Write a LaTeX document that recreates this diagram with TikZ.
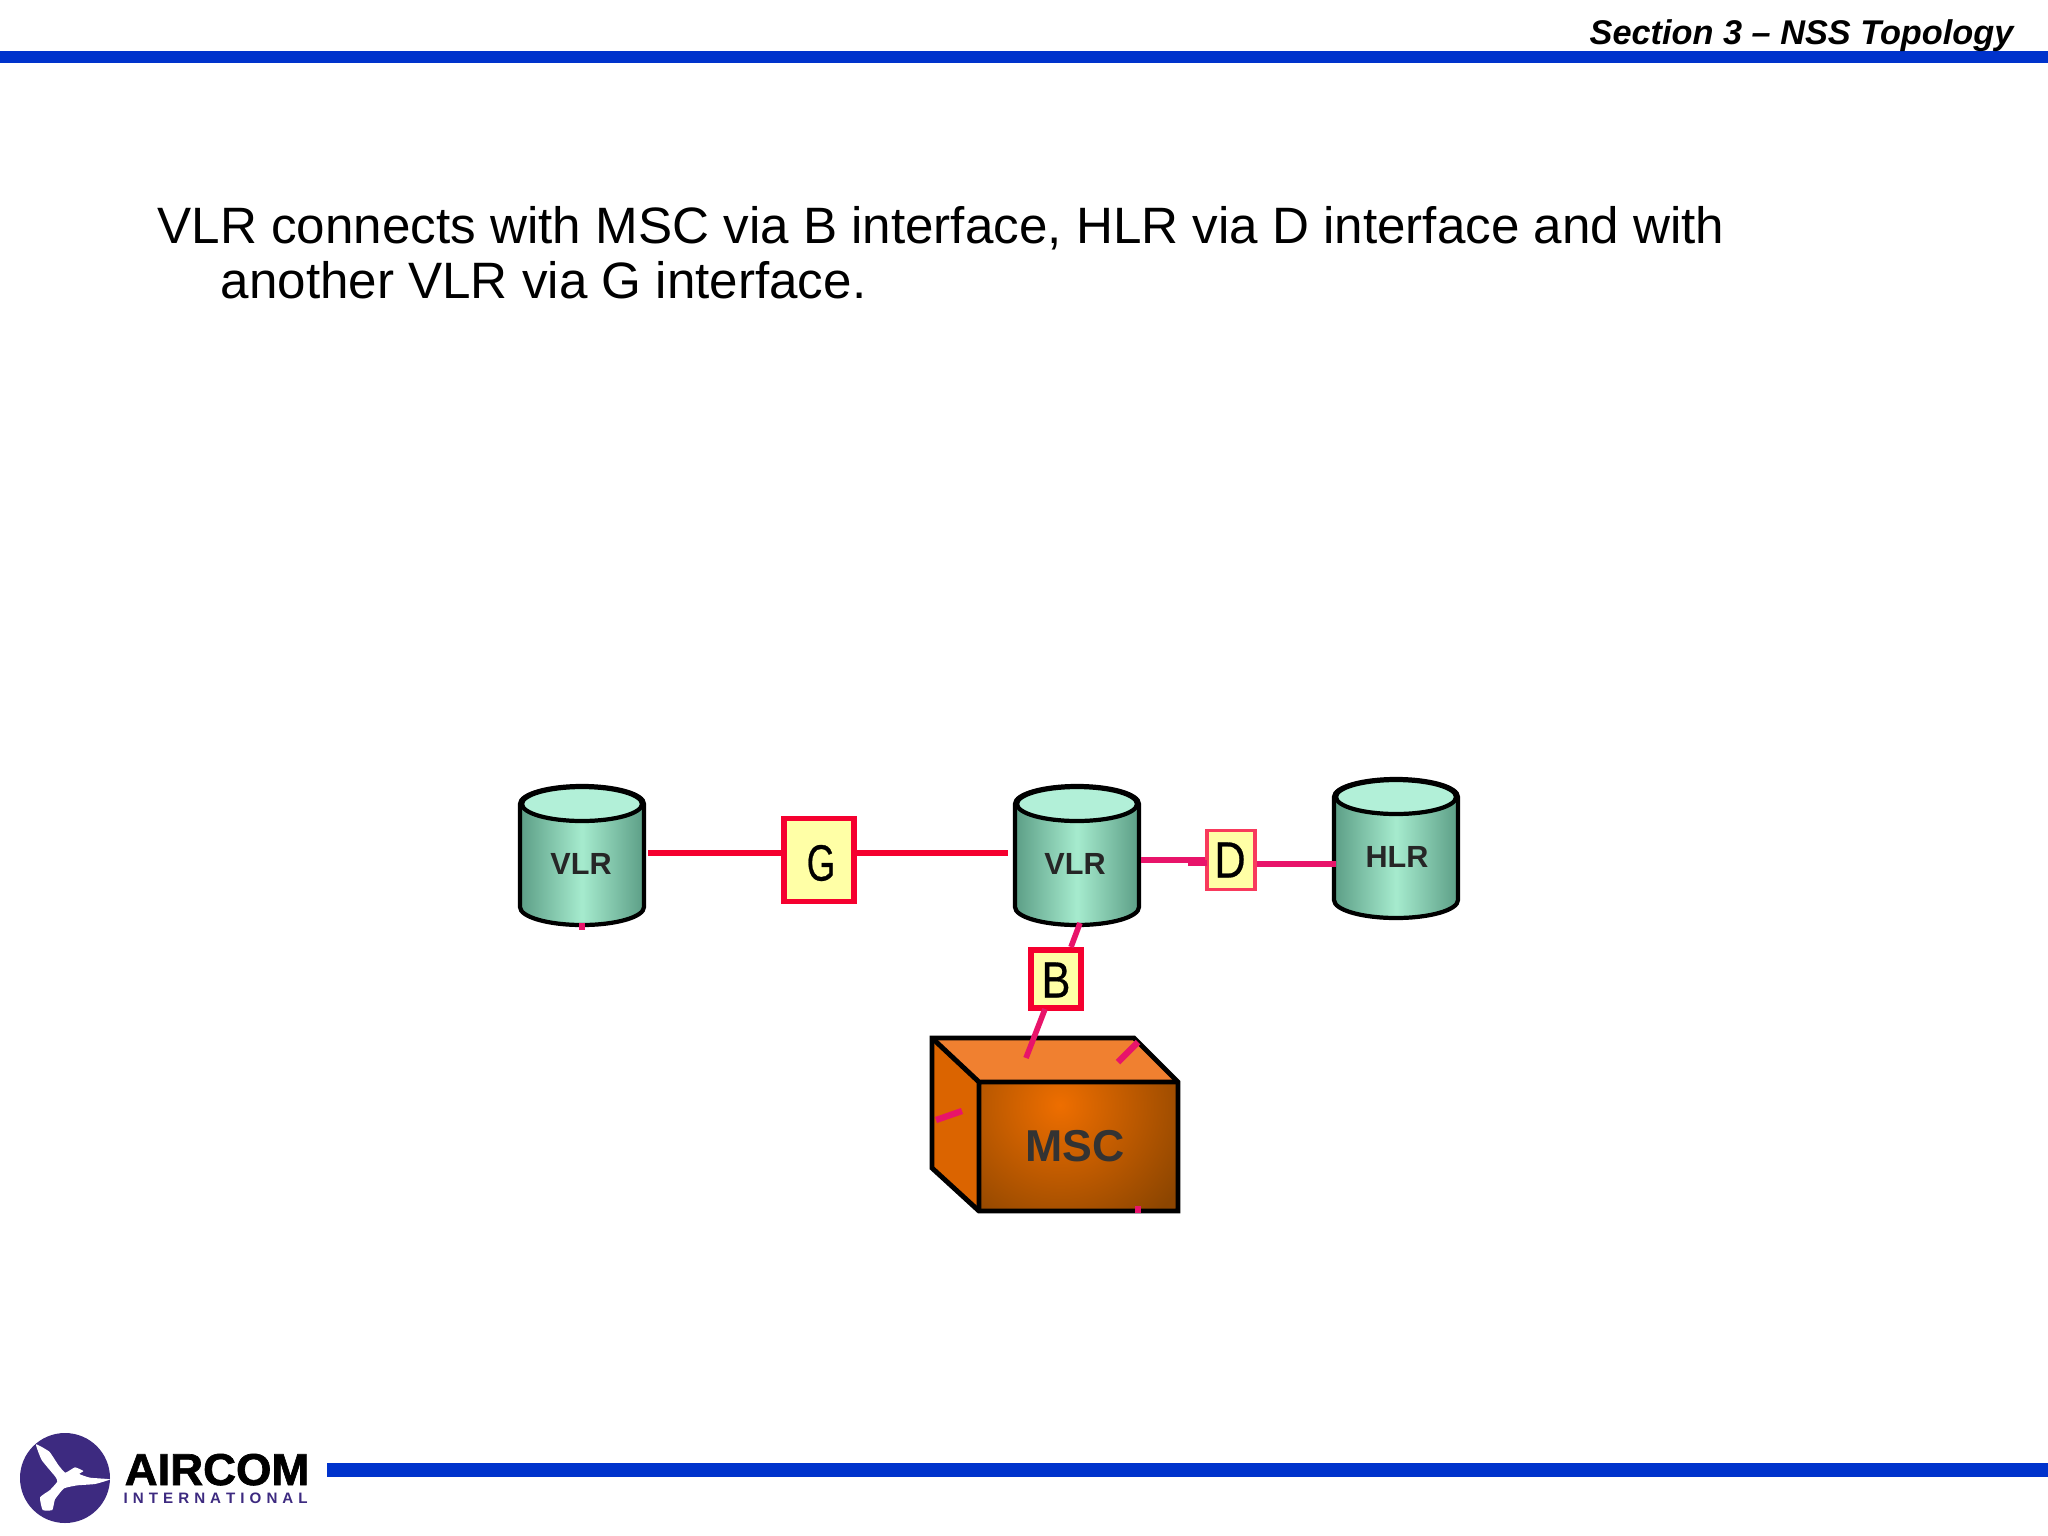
\documentclass[tikz,border=0pt]{standalone}
\usepackage{fontspec}
\usepackage{graphicx}
\setmainfont{Liberation Sans}
\newfontfamily\heavyfont[BoldFeatures={FakeBold=1.5}]{Liberation Sans}
\newfontfamily\midfont[FakeBold=0.6]{Liberation Sans}
\usetikzlibrary{calc}
\definecolor{barblue}{HTML}{0033CC}
\definecolor{logopurple}{HTML}{3D2A80}
\definecolor{boxred}{HTML}{F5002F}
\definecolor{softred}{HTML}{F83A5C}
\definecolor{linkpink}{HTML}{E8146A}
\definecolor{boxyellow}{HTML}{FFFFA6}
\definecolor{cyltop}{HTML}{B2F0D8}
\definecolor{cyldark}{HTML}{5C9E86}
\definecolor{cyllight}{HTML}{A6EBCE}
\definecolor{msctop}{HTML}{F08030}
\definecolor{mscside}{HTML}{DB6400}
\definecolor{mscc}{HTML}{EE6E00}
\definecolor{msce}{HTML}{8C4500}
\newcommand{\fs}[1]{\fontsize{#1}{#1}\selectfont}
\newcommand{\cylshape}[3]{% centre x, top-ellipse y, bottom y
  \path[draw=black,line width=1.2pt,left color=cyldark,right color=cyldark,middle color=cyllight]
    (#1-62,#2) -- (#1-62,#3-18) arc[start angle=180,end angle=0,x radius=62,y radius=18]
    -- (#1+62,#2) arc[start angle=0,end angle=-180,x radius=62,y radius=18] -- cycle;
  \path[draw=black,line width=1.2pt,fill=cyltop] (#1,#2) ellipse[x radius=60,y radius=17];
}
\tikzset{
  bar/.style={fill=barblue,draw=none},
  stronglink/.style={draw=boxred,line width=1.45pt},
  softlink/.style={draw=linkpink,line width=1.6pt},
  tick/.style={draw=linkpink,line width=1.8pt},
  iface/.style={fill=boxyellow,draw=boxred,line width=1.6pt,inner sep=0pt},
  softiface/.style={fill=boxyellow,draw=softred,line width=1.1pt,inner sep=0pt},
  dblabel/.style={inner sep=0pt,font=\bfseries\fs{8.7},text=black!85},
  body/.style={inner sep=0pt,anchor=base west,font=\fs{14.55}},
  ifacelabel/.style={inner sep=0pt,font=\midfont\fs{14.5}},
}
\begin{document}
\begin{tikzpicture}[x=0.01cm,y=-0.01cm]
\useasboundingbox (0,0) rectangle (2048,1536);
\fill[white] (0,0) rectangle (2048,1536);
% bars
\path[bar] (0,51) rectangle (2048,63);
\path[bar] (327,1463) rectangle (2048,1477);
\node[inner sep=0pt,anchor=base east,font=\bfseries\itshape\fs{9.75}] (hdr) at (2014,44) {Section 3 – NSS Topology};
% body text
\node[body] (line1) at (157,243) {VLR connects with MSC via B interface, HLR via D interface and with};
\node[body] (line2) at (220,298) {another VLR via G interface.};
% cylinders
\cylshape{582}{804}{925}
\cylshape{1077}{804}{925}
\cylshape{1396}{797}{918}
\node[dblabel] (vlrA) at (581,864) {VLR};
\node[dblabel] (vlrB) at (1075,864) {VLR};
\node[dblabel] (hlr) at (1397,857) {HLR};
\coordinate (vlrAe) at (648,853);
\coordinate (vlrBw) at (1008,853);
\coordinate (vlrBe) at (1141,860);
\coordinate (hlrW) at (1336,864);
\coordinate (vlrBs) at (1080,923);
% MSC box
\coordinate (mA) at (932,1038);
\coordinate (mB) at (1134,1038);
\coordinate (mC) at (1178,1082);
\coordinate (mD) at (1178,1211);
\coordinate (mE) at (979,1211);
\coordinate (mF) at (979,1082);
\coordinate (mG) at (932,1168);
\path[fill=msctop] (mA) -- (mB) -- (mC) -- (mF) -- cycle;
\path[fill=mscside] (mA) -- (mF) -- (mE) -- (mG) -- cycle;
\begin{scope}
\clip (mF) rectangle (mD);
\fill[msce] (mF) rectangle (mD);
\shade[inner color=mscc,outer color=msce] (1060,1105) circle[radius=145];
\end{scope}
\draw[black,line width=1.4pt,line join=miter] (mA) -- (mB) -- (mC) -- (mD) -- (mE) -- (mG) -- cycle;
\draw[black,line width=1.4pt] (mA) -- (mF) -- (mC) (mF) -- (mE);
\node[inner sep=0pt,font=\bfseries\fs{12.7},text=black!80] (msc) at (1075,1146) {MSC};
\coordinate (mscTop) at (1026,1058);
% interface boxes
\node[iface,minimum width=0.70cm,minimum height=0.83cm] (g) at (819,860) {};
\node[ifacelabel] (gl) at (821,863) {\scalebox{0.72}[1]{G}};
\node[softiface,minimum width=0.48cm,minimum height=0.59cm] (d) at (1231,860) {};
\node[ifacelabel] (dl) at (1230,860) {\scalebox{0.85}[1]{D}};
\node[iface,minimum width=0.50cm,minimum height=0.58cm] (b) at (1056,979) {};
\node[ifacelabel] (bl) at (1056,980) {\scalebox{0.85}[1]{B}};
% connectors
\draw[stronglink] (vlrAe) -- (vlrAe -| g.west);
\draw[stronglink] (vlrAe -| g.east) -- (vlrBw);
\draw[softlink] (vlrBe) -- (vlrBe -| d.west);
\draw[softlink] (hlrW -| d.east) -- (hlrW);
\draw[softlink] (vlrBs) -- (1071,947);
\draw[softlink] (1045,1009) -- (mscTop);
% stray ticks
\draw[tick] (1138,1042) -- (1118,1062);
\draw[tick] (936,1120) -- (962,1111);
\draw[tick] (1138,1206) -- (1138,1213);
\draw[tick] (582,923) -- (582,930);
\draw[tick] (1188,863) -- (1207,863);
% logo
\fill[logopurple] (65,1478) circle[radius=45] ;
\begin{scope}[shift={(0,1410)},x=0.01cm/3,y=-0.01cm/3]
\fill[white] plot[smooth cycle,tension=0.25] coordinates {(108,103) (148,125) (175,165) (196,188) (225,172) (250,183) (238,192) (270,203) (330,208) (285,222) (232,226) (192,235) (165,268) (157,300) (128,300) (120,262) (150,240) (172,215) (166,200) (125,150)};
\end{scope}
\node[inner sep=0pt,anchor=base west,font=\heavyfont\bfseries\fs{12.7}] (air) at (124,1485) {\scalebox{1.02}[1]{AIRCOM}};
\node[inner sep=0pt,anchor=base west,font=\bfseries\fs{4.3},text=logopurple] (intl) at (123,1503) {I\,\,N\,\,T\,\,E\,\,R\,\,N\,\,A\,\,T\,\,I\,\,O\,\,N\,\,A\,\,L};
\end{tikzpicture}
\end{document}
